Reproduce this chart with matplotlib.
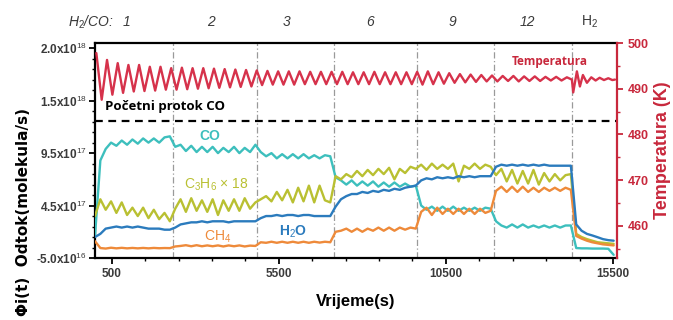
import numpy as np
import matplotlib
matplotlib.use("Agg")
import matplotlib.pyplot as plt
from matplotlib.ticker import FixedLocator, FixedFormatter, MultipleLocator
import matplotlib.transforms as mtransforms

plt.rcParams['font.family'] = ['Liberation Sans', 'DejaVu Sans']
plt.rcParams['mathtext.fontset'] = 'custom'
plt.rcParams['mathtext.rm'] = 'Liberation Sans'
plt.rcParams['mathtext.it'] = 'Liberation Sans:italic'
plt.rcParams['mathtext.bf'] = 'Liberation Sans:bold'

# ---------------- data ----------------
# sampling grid for the flux series (s)
time_s = np.arange(0, 15521, 160)

# fluxes in units of 1e17 molecules/s
co = [1.6, 8.8, 9.9, 10.5, 10.2, 10.7, 10.3, 10.8, 10.4, 10.9, 10.5, 10.9, 10.5, 11.0, 11.1,
      10.1, 10.3, 9.7, 10.2, 9.6, 10.1, 9.6, 10.1, 9.5, 10.0, 9.6, 10.1, 9.5, 10.0, 9.6, 10.3,
      9.6, 9.2, 9.5, 9.0, 9.4, 9.0, 9.4, 9.0, 9.4, 9.0, 9.3, 9.0, 9.3, 9.2,
      7.2, 6.9, 6.5, 6.9, 6.4, 6.8, 6.4, 6.8, 6.3, 6.7, 6.3, 6.7, 6.3, 6.6, 6.3, 6.4,
      4.5, 4.1, 4.4, 4.0, 4.4, 4.0, 4.4, 4.0, 4.3, 4.0, 4.3, 4.0, 4.3, 4.2,
      3.0, 2.6, 2.4, 2.7, 2.4, 2.7, 2.4, 2.6, 2.4, 2.6, 2.4, 2.6, 2.4, 2.6, 2.6,
      0.45, 0.42, 0.42, 0.40, 0.40, 0.40, 0.38, -0.2]

h2o = [1.5, 1.8, 2.3, 2.4, 2.5, 2.4, 2.5, 2.4, 2.5, 2.4, 2.3, 2.3, 2.3, 2.2, 2.2,
       2.4, 2.7, 2.8, 2.9, 2.9, 3.0, 2.9, 3.0, 3.0, 3.0, 2.9, 3.0, 3.0, 3.0, 3.0, 3.0,
       3.3, 3.5, 3.5, 3.6, 3.5, 3.6, 3.6, 3.5, 3.6, 3.6, 3.5, 3.5, 3.5, 3.5,
       4.4, 5.1, 5.4, 5.6, 5.6, 5.8, 5.7, 5.9, 5.8, 6.0, 5.9, 6.1, 6.0, 6.2, 6.3, 6.4,
       6.9, 7.1, 7.0, 7.2, 7.1, 7.2, 7.1, 7.3, 7.2, 7.3, 7.2, 7.3, 7.3, 7.3,
       8.2, 8.4, 8.3, 8.4, 8.3, 8.4, 8.3, 8.4, 8.3, 8.4, 8.3, 8.3, 8.3, 8.3, 8.3,
       2.7, 2.1, 1.8, 1.65, 1.48, 1.3, 1.2, 1.15]

ch4 = [1.1, 0.45, 0.40, 0.48, 0.42, 0.47, 0.42, 0.46, 0.42, 0.46, 0.42, 0.46, 0.43, 0.45, 0.44,
       0.6, 0.65, 0.72, 0.62, 0.72, 0.62, 0.7, 0.62, 0.7, 0.6, 0.7, 0.62, 0.7, 0.6, 0.68, 0.65,
       1.0, 0.95, 1.05, 0.95, 1.05, 0.95, 1.05, 0.95, 1.05, 0.95, 1.05, 0.97, 1.05, 1.0,
       2.0, 2.1, 2.3, 2.0, 2.3, 2.0, 2.3, 2.1, 2.4, 2.1, 2.4, 2.1, 2.4, 2.2, 2.4, 2.3,
       3.9, 4.3, 3.6, 4.3, 3.7, 4.2, 3.7, 4.2, 3.7, 4.2, 3.7, 4.2, 3.8, 4.0,
       5.9, 6.3, 5.8, 6.3, 5.8, 6.3, 5.8, 6.2, 5.8, 6.2, 5.9, 6.2, 5.9, 6.2, 6.0,
       1.6, 1.35, 1.15, 1.0, 0.9, 0.8, 0.75, 0.7]

c3h6_x18 = [3.5, 5.1, 4.1, 4.9, 3.8, 4.8, 3.6, 4.3, 3.5, 4.3, 3.3, 4.1, 3.2, 3.8, 3.0,
            4.2, 5.1, 3.9, 5.2, 4.0, 5.0, 3.9, 5.1, 3.6, 5.0, 4.0, 5.1, 4.0, 5.2, 4.2, 4.8,
            5.1, 5.4, 4.9, 5.8, 5.0, 6.0, 4.8, 6.2, 4.9, 6.4, 4.8, 6.4, 5.0, 4.8,
            7.3, 7.0, 7.5, 7.2, 7.8, 7.3, 7.9, 7.4, 8.0, 7.5, 8.1, 7.0, 8.0, 7.6, 8.2, 8.0,
            8.4, 7.9, 8.5, 8.0, 8.4, 8.0, 8.5, 6.8, 8.3, 8.0, 8.5, 8.0, 8.4, 8.2,
            7.4, 8.0, 6.8, 7.9, 6.6, 7.8, 6.6, 7.9, 6.5, 7.6, 6.8, 7.5, 6.9, 7.4, 7.5,
            1.8, 1.5, 1.3, 1.15, 1.0, 0.95, 0.9, 0.85]

# temperature (K): oscillation extremes on a 160 s grid, then the H2 tail
temp_grid_start = 40
temp_main = [497.8, 487.6, 496.3, 488.7, 495.6, 489.1, 495.2, 489.4, 495.2, 489.5, 494.8, 489.6, 494.8, 489.8, 494.5,
             489.8, 494.6, 489.9, 494.5, 490.0, 494.5, 490.1, 494.4, 490.2, 494.3, 490.3, 494.2, 490.4, 494.1, 490.5, 494.0,
             490.8, 493.9, 490.9, 493.8, 490.9, 493.8, 490.9, 493.8, 491.0, 493.7, 491.0, 493.7, 491.0, 493.7,
             491.0, 493.7, 491.0, 493.6, 491.0, 493.6, 491.0, 493.7, 491.0, 493.6, 491.0, 493.6, 491.0, 493.6, 491.0, 493.7,
             490.9, 493.8, 491.0, 493.6, 491.1, 493.4, 491.3, 493.2, 491.4, 493.1, 491.5, 493.0, 491.6, 492.9,
             491.6, 492.8, 491.7, 492.8, 491.6, 492.7, 491.7, 492.7, 491.7, 492.6, 491.8, 492.6, 491.8, 492.5]
temp_tail_t = [14270, 14310, 14420, 14510, 14600, 14720, 14850, 14980, 15100, 15230, 15360, 15480, 15560]
temp_tail = [492.0, 489.2, 493.8, 490.5, 493.0, 491.3, 492.5, 491.8, 492.4, 491.9, 492.3, 491.9, 492.0]

switch_times = [2330, 4850, 7150, 9630, 11940, 14270]
ratio_labels = ['1', '2', '3', '6', '9', '12']
ratio_label_t = [950, 3464, 5740, 8225, 10680, 12925]
h2_label_t = 14810
initial_co_flow = 1.26e18

left_ticks = [-5e16, 4.5e17, 9.5e17, 1.45e18, 1.95e18]
left_ticklabels = ['-5.0x10$^{16}$', '4.5x10$^{17}$', '9.5x10$^{17}$', '1.5x10$^{18}$', '2.0x10$^{18}$']
x_ticks = [500, 5500, 10500, 15500]
t_ticks = [460, 470, 480, 490, 500]

# ---------------- plot ----------------
C_CO = '#3dbfbd'
C_H2O = '#2b7bbd'
C_CH4 = '#ee8a3a'
C_C3 = '#b9c032'
C_T = '#d6324b'
C_TAX = '#c8283c'
C_TXT = '#3a3a3a'

fig = plt.figure(figsize=(6.73, 3.2), dpi=100)
ax = fig.add_axes([95/673, 1-258/320, (617-95)/673, (258-43)/320])
ax2 = ax.twinx()

scale = 1e17
lw = 1.7
kw = dict(lw=lw, solid_joinstyle='round', solid_capstyle='round')
ax.plot(time_s, np.array(co)*scale, color=C_CO, zorder=3, **kw)
ax.plot(time_s, np.array(c3h6_x18)*scale, color=C_C3, zorder=3, **kw)
ax.plot(time_s, np.array(ch4)*scale, color=C_CH4, zorder=3, **kw)
ax.plot(time_s, np.array(h2o)*scale, color=C_H2O, zorder=4, **kw)

temp_t = np.concatenate([temp_grid_start + 160*np.arange(len(temp_main)), temp_tail_t])
temp_v = np.concatenate([temp_main, temp_tail])
ax2.plot(temp_t, temp_v, color=C_T, **kw)

for st in switch_times:
    ax.axvline(st, color='#9a9a9a', lw=0.9, ls=(0, (5, 2, 1, 2)), zorder=1)
ax.axhline(initial_co_flow, color='black', lw=1.6, ls=(0, (3.5, 2.5)), zorder=2)

ax.set_xlim(0, 15620)
ax.set_ylim(-5e16, 2.0e18)
ax2.set_ylim(453, 500)

ax.yaxis.set_major_locator(FixedLocator(left_ticks))
ax.yaxis.set_major_formatter(FixedFormatter(left_ticklabels))
ax.yaxis.set_minor_locator(MultipleLocator(1e17, offset=5e16))
ax.xaxis.set_major_locator(FixedLocator(x_ticks))
ax.xaxis.set_minor_locator(MultipleLocator(1000, offset=500))
ax2.yaxis.set_major_locator(FixedLocator(t_ticks))
ax2.yaxis.set_minor_locator(MultipleLocator(5))

ax.tick_params(axis='both', which='major', direction='out', length=4, width=1.3,
               labelsize=8.5, labelcolor=C_TXT)
ax.tick_params(axis='both', which='minor', direction='out', length=2.5, width=1.0)
for lab in ax.get_xticklabels() + ax.get_yticklabels():
    lab.set_fontweight('bold')
ax.yaxis.set_tick_params(pad=2)
ax2.tick_params(axis='y', which='major', direction='out', length=4, width=1.3,
                colors=C_TAX, labelsize=9)
ax2.tick_params(axis='y', which='minor', direction='out', length=2.5, width=1.0, colors=C_TAX)
for lab in ax2.get_yticklabels():
    lab.set_fontweight('bold')

for sp in ['left', 'top', 'bottom']:
    ax.spines[sp].set_linewidth(1.6)
ax.spines['right'].set_visible(False)
for sp in ['left', 'top', 'bottom']:
    ax2.spines[sp].set_visible(False)
ax2.spines['right'].set_color(C_TAX)
ax2.spines['right'].set_linewidth(1.6)

ax.set_xlabel('Vrijeme(s)', fontsize=12, fontweight='bold', labelpad=10)
ax2.set_ylabel('Temperatura (K)', fontsize=13, fontweight='bold', color=C_TAX, labelpad=4)
fig.text(0.035, 1-212/320, 'Φi(t)  Odtok(molekula/s)', rotation=90, fontsize=11,
         fontweight='bold', ha='center', va='center', family=['DejaVu Sans'])

# series labels
ax.text(3434, 1.11e18, 'CO', color=C_CO, fontsize=10, ha='center', va='center', fontweight='bold')
ax.text(3644, 6.5e17, 'C$_3$H$_6$ × 18', color=C_C3, fontsize=10, ha='center', va='center')
ax.text(3674, 1.55e17, 'CH$_4$', color=C_CH4, fontsize=10, ha='center', va='center')
ax.text(5919, 2.0e17, 'H$_2$O', color=C_H2O, fontsize=10, ha='center', va='center', fontweight='bold')
ax.text(290, 1.39e18, 'Početni protok CO', color='black', fontsize=9.5, ha='left', va='center',
        fontweight='bold', family=['Open Sans', 'DejaVu Sans'])
ax2.text(13614, 495.9, 'Temperatura', color=C_TAX, fontsize=8.5, ha='center', va='center',
         fontweight='bold', family=['Open Sans', 'DejaVu Sans'])

# top ratio labels
trans = mtransforms.blended_transform_factory(ax.transData, ax.transAxes)
ytop = 1 + 21/215
ax.text(560, ytop, 'H$_2$/CO:', transform=trans, ha='right', va='center', fontsize=10,
        style='italic', color=C_TXT)
for tx, lab in zip(ratio_label_t, ratio_labels):
    ax.text(tx, ytop, lab, transform=trans, ha='center', va='center', fontsize=10,
            style='italic', color=C_TXT)
ax.text(h2_label_t, ytop, 'H$_2$', transform=trans, ha='center', va='center', fontsize=10,
        color=C_TXT)

fig.savefig('out.png', dpi=100)
